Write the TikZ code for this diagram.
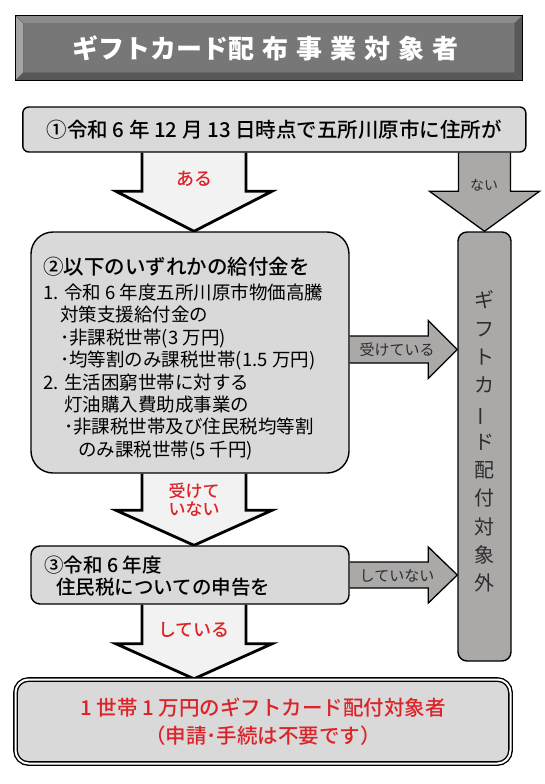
\documentclass[tikz,border=0pt]{standalone}
\usepackage{fontspec}
\setmainfont{Noto Sans CJK JP}[BoldFont={Noto Sans CJK JP Medium}]
\newfontfamily\gokubuto{Noto Sans CJK JP}
\usetikzlibrary{calc}
\pgfdeclarelayer{fondo}
\pgfsetlayers{fondo,main}
\definecolor{haiiro}{RGB}{217,217,217}
\definecolor{shiro}{RGB}{242,242,242}
\definecolor{nezumi}{RGB}{171,168,168}
\definecolor{face}{RGB}{119,119,119}
\definecolor{bevlight}{RGB}{165,165,165}
\definecolor{bevmid}{RGB}{140,140,140}
\definecolor{bevdark}{RGB}{88,88,88}
\definecolor{aka}{RGB}{220,35,40}
\definecolor{sumi}{RGB}{45,45,45}
\tikzset{
  waku/.style={draw, line width=1.4pt, fill=haiiro, inner sep=0pt},
  usuyaji/.style={fill=shiro, draw, line width=2.8pt},
  koiyaji/.style={fill=nezumi, draw, line width=1.3pt},
  akamoji/.style={text=aka, font=\bfseries\fontsize{18}{16}\selectfont, align=center, inner sep=0pt},
  sumimoji/.style={text=sumi, font=\fontsize{15}{15}\selectfont, inner sep=0pt},
  bevel/.style={draw=black!60, line width=0.4pt},
}
% down block arrow: style, x, shaft half, head half, head length, from, to
\newcommand{\yajishita}[7]{%
  \filldraw[#1] let \p1=(#6), \p2=(#7) in
    ({(#2-#3)*1pt},\y1) -- ({(#2-#3)*1pt},{\y2+#5pt}) -- ({(#2-#4)*1pt},{\y2+#5pt})
    -- ({#2pt},\y2) -- ({(#2+#4)*1pt},{\y2+#5pt}) -- ({(#2+#3)*1pt},{\y2+#5pt})
    -- ({(#2+#3)*1pt},\y1);}
% right block arrow: style, shaft half, head half, head length, from, to
\newcommand{\yajimigi}[6]{%
  \filldraw[#1] let \p1=(#5), \p2=(#6) in
    (\x1,{\y1+#2pt}) -- ({\x2-#4pt},{\y1+#2pt}) -- ({\x2-#4pt},{\y1+#3pt}) -- (\x2,\y1)
    -- ({\x2-#4pt},{\y1-#3pt}) -- ({\x2-#4pt},{\y1-#2pt}) -- (\x1,{\y1-#2pt});}

\begin{document}
\begin{tikzpicture}[x=1pt, y=-1pt]
  \useasboundingbox (0,0) rectangle (544,784);

  % title bar
  \node[draw, line width=1pt, fill=face, minimum width=506pt, minimum height=64pt, inner sep=0pt] (midashi) at (268.8,48) {};
  \filldraw[bevel, fill=bevmid] (midashi.north west) -- (midashi.north east) -- ([shift={(-8pt,-8pt)}]midashi.north east) -- ([shift={(8pt,-8pt)}]midashi.north west) -- cycle;
  \filldraw[bevel, fill=bevlight] (midashi.north west) -- ([shift={(8pt,-8pt)}]midashi.north west) -- ([shift={(8pt,8pt)}]midashi.south west) -- (midashi.south west) -- cycle;
  \filldraw[bevel, fill=bevdark] (midashi.south west) -- (midashi.south east) -- ([shift={(-8pt,8pt)}]midashi.south east) -- ([shift={(8pt,8pt)}]midashi.south west) -- cycle;
  \filldraw[bevel, fill=bevdark] (midashi.north east) -- (midashi.south east) -- ([shift={(-8pt,8pt)}]midashi.south east) -- ([shift={(-8pt,-8pt)}]midashi.north east) -- cycle;
  \draw[line width=1pt] (midashi.north west) rectangle (midashi.south east);
  \node[text=white, font=\gokubuto\bfseries\fontsize{26}{26}\selectfont] (midashitext) at ([xshift=-3pt]midashi.center) {ギフトカード配\kern8pt 布\kern8pt 事\kern8pt 業\kern8pt 対\kern8pt 象\kern8pt 者};

  % boxes
  \node[waku, rounded corners=6pt, minimum width=503pt, minimum height=45pt, font=\bfseries\fontsize{20.5}{20.5}\selectfont] (jusho) at (274.3,129.5) {①令和 6 年 12 月 13 日時点で五所川原市に住所が};
  \node[waku, rounded corners=22pt, minimum width=318pt, minimum height=241pt] (kyufu) at (190,352.5) {};
  \node[anchor=north west, inner sep=0pt, align=left, font=\fontsize{18.5}{22.4}\selectfont] (kyufutext) at (43,257) {%
    {\bfseries\fontsize{20.5}{22.4}\selectfont ②以下のいずれかの給付金を}\\[2.5pt]
    1. 令和 6 年度五所川原市物価高騰\\
    \hspace*{17pt}対策支援給付金の\\
    \hspace*{17pt}･非課税世帯(3 万円)\\
    \hspace*{17pt}･均等割のみ課税世帯(1.5 万円)\\
    2. 生活困窮世帯に対する\\
    \hspace*{21pt}灯油購入費助成事業の\\
    \hspace*{21pt}･非課税世帯及び住民税均等割\\
    \hspace*{35pt}のみ課税世帯(5 千円)};
  \node[waku, rounded corners=9pt, minimum width=318pt, minimum height=58pt] (shinkoku) at (190,575) {};
  \node[anchor=north west, inner sep=0pt, align=left, font=\bfseries\fontsize{19.5}{22}\selectfont] (shinkokutext) at (44,556) {③令和 6 年度\\\hspace*{12pt}住民税についての申告を};
  \node[waku, fill=nezumi, rounded corners=9pt, minimum width=53pt, minimum height=429pt] (gai) at (484.5,446.5) {};
  \node[text=sumi, align=center, inner sep=0pt, font=\fontsize{20}{28.3}\selectfont] (gaitext) at ([yshift=5pt]gai.center) {ギ\\フ\\ト\\カ\\\rotatebox[origin=c]{90}{ー}\\ド\\配\\付\\対\\象\\外};
  \node[waku, double=white, double distance=2pt, rounded corners=13pt, minimum width=495pt, minimum height=84pt, align=center, text=aka, font=\bfseries\fontsize{20.5}{28}\selectfont] (kekka) at (263,721.5) {1 世帯 1 万円のギフトカード配付対象者\\（申請･手続は不要です）};

  % block arrows
  \begin{pgfonlayer}{fondo}
    \yajishita{usuyaji}{194}{52}{78}{40}{jusho.south}{kyufu.north}
    \yajishita{koiyaji}{484.5}{26}{55}{40}{jusho.south}{gai.north}
    \yajishita{usuyaji}{194}{52}{78}{35}{kyufu.south}{shinkoku.north}
    \yajishita{usuyaji}{194}{52}{78}{35}{shinkoku.south}{kekka.north}
    \yajimigi{koiyaji}{13.5}{29}{29}{[yshift=3pt]kyufu.east}{gai.west}
    \yajimigi{koiyaji}{13}{28}{29}{shinkoku.east}{gai.west}
  \end{pgfonlayer}

  % arrow labels
  \node[akamoji] (aru) at (194,179) {ある};
  \node[sumimoji, font=\fontsize{14}{14}\selectfont] (nai) at (484,185) {ない};
  \node[sumimoji] (uketeiru) at (397,349.5) {受けている};
  \node[akamoji, font=\bfseries\fontsize{17}{17.5}\selectfont] (uketeinai) at (194,500) {受けて\\いない};
  \node[sumimoji] (shiteinai) at (397,576) {していない};
  \node[akamoji] (shiteiru) at (194,630) {している};
\end{tikzpicture}
\end{document}
